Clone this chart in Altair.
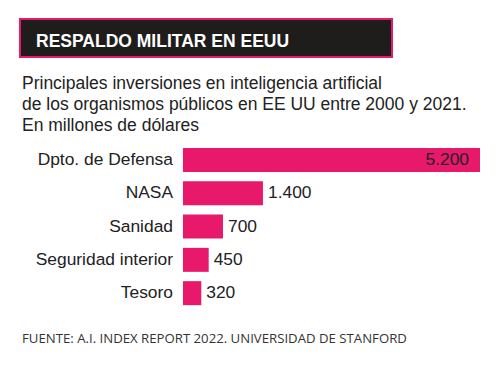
import altair as alt
import pandas as pd

categories = ["Dpto. de Defensa", "NASA", "Sanidad", "Seguridad interior", "Tesoro"]
values = [5200, 1400, 700, 450, 320]
value_labels = ["5.200", "1.400", "700", "450", "320"]

title_text = "RESPALDO MILITAR EN EEUU"
subtitle_lines = [
    "Principales inversiones en inteligencia artificial",
    "de los organismos públicos en EE UU entre 2000 y 2021.",
    "En millones de dólares",
]
source_text = "FUENTE: A.I. INDEX REPORT 2022. UNIVERSIDAD DE STANFORD"

df = pd.DataFrame({"cat": categories, "val": values, "lab": value_labels})

FONT = "Liberation Sans"
PINK = "#e8196a"
TXT = "#222222"

x_scale = alt.Scale(domain=[0, 5200], range=[175, 472], nice=False, zero=True)
y_scale = alt.Scale(domain=categories, range=[135.3, 301.8], paddingInner=0.28, paddingOuter=0.14)

base = alt.Chart(df)

bars = base.mark_bar(color=PINK).encode(
    x=alt.X("val:Q", scale=x_scale, axis=None),
    x2=alt.value(175),
    y=alt.Y("cat:N", scale=y_scale, axis=None, sort=categories),
)

cat_labels = base.mark_text(align="right", baseline="middle", font=FONT, fontSize=17.4, color=TXT).encode(
    x=alt.value(165),
    y=alt.Y("cat:N", scale=y_scale, axis=None, sort=categories),
    text="cat:N",
)

inside = base.transform_filter("datum.val > 3000").mark_text(
    align="right", baseline="middle", font=FONT, fontSize=17.4, color=TXT, dx=-11
).encode(
    x=alt.X("val:Q", scale=x_scale, axis=None),
    y=alt.Y("cat:N", scale=y_scale, axis=None, sort=categories),
    text="lab:N",
)

outside = base.transform_filter("datum.val <= 3000").mark_text(
    align="left", baseline="middle", font=FONT, fontSize=17.4, color=TXT, dx=5
).encode(
    x=alt.X("val:Q", scale=x_scale, axis=None),
    y=alt.Y("cat:N", scale=y_scale, axis=None, sort=categories),
    text="lab:N",
)

# Header box
box = alt.Chart(pd.DataFrame({"t": [title_text]})).mark_rect(
    fill="#1e1d1b", stroke=PINK, strokeWidth=2
).encode(x=alt.value(12), x2=alt.value(384), y=alt.value(11), y2=alt.value(49))

title = alt.Chart(pd.DataFrame({"t": [title_text]})).mark_text(
    align="left", baseline="alphabetic", font=FONT, fontSize=17.5, fontWeight="bold", color="white"
).encode(x=alt.value(28), y=alt.value(39), text="t:N")

sub_df = pd.DataFrame({"t": subtitle_lines, "i": [0, 1, 2]})
subtitle = alt.Chart(sub_df).mark_text(
    align="left", baseline="alphabetic", font=FONT, fontSize=17.5, color=TXT
).encode(
    x=alt.value(14),
    y=alt.Y("i:O", scale=alt.Scale(domain=[0, 1, 2], range=[81, 123], padding=0), axis=None),
    text="t:N",
)

source = alt.Chart(pd.DataFrame({"t": [source_text]})).mark_text(
    align="left", baseline="alphabetic", font="Open Sans", fontSize=13.2, color="#333333"
).encode(x=alt.value(14), y=alt.value(335), text="t:N")

chart = alt.layer(box, title, subtitle, bars, cat_labels, inside, outside, source).resolve_scale(
    y="independent"
).properties(
    width=484, height=351, autosize=alt.AutoSizeParams(type="none"), padding=0, background="white"
).configure_view(stroke=None)

chart.save("out.html", embed_options={"renderer": "svg", "actions": False})
